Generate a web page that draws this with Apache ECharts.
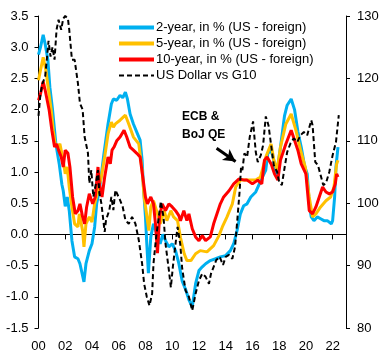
<!DOCTYPE html>
<html>
<head>
<meta charset="utf-8">
<script src="https://cdn.jsdelivr.net/npm/echarts@6/dist/echarts.min.js"></script>
<style>html,body{margin:0;padding:0;background:#fff}#c{width:384px;height:360px}</style>
</head>
<body>
<div id="c"></div>
<script>
// Series names
const seriesNames = ['2-year, in % (US - foreign)', '5-year, in % (US - foreign)', '10-year, in % (US - foreign)', 'US Dollar vs G10'];
const xTickYears = [2000, 2002, 2004, 2006, 2008, 2010, 2012, 2014, 2016, 2018, 2020, 2022];

// [year, value] readings
const twoYear = [
 [2000.0,2.88],[2000.15,3.0],[2000.35,3.2],[2000.5,3.05],[2000.7,2.8],[2000.85,2.36],[2001.05,2.0],[2001.3,1.45],
 [2001.55,1.13],[2001.75,0.8],[2001.85,0.7],[2002.0,0.45],[2002.15,0.6],[2002.3,0.38],[2002.5,-0.1],[2002.7,-0.36],
 [2002.95,-0.39],[2003.1,-0.47],[2003.4,-0.76],[2003.55,-0.47],[2003.8,-0.26],[2004.0,-0.15],[2004.2,0.12],[2004.35,0.49],
 [2004.55,0.7],[2004.9,1.3],[2005.2,1.77],[2005.45,2.09],[2005.6,2.17],[2005.85,2.15],[2006.1,2.23],[2006.3,2.19],
 [2006.5,2.28],[2006.65,2.17],[2006.85,1.93],[2007.1,1.77],[2007.35,1.64],[2007.6,1.51],[2007.75,1.19],[2007.85,0.76],
 [2008.0,0.28],[2008.1,-0.15],[2008.22,-0.62],[2008.4,-0.04],[2008.6,0.17],[2008.85,0.01],[2009.1,-0.15],[2009.3,0.0],
 [2009.5,-0.1],[2009.75,-0.2],[2010.0,-0.15],[2010.25,-0.26],[2010.5,-0.47],[2010.75,-0.75],[2011.0,-0.88],[2011.25,-1.05],
 [2011.5,-1.16],[2011.75,-0.79],[2012.0,-0.58],[2012.25,-0.52],[2012.5,-0.47],[2012.85,-0.42],[2013.25,-0.39],[2013.6,-0.36],
 [2014.0,-0.34],[2014.35,-0.26],[2014.6,-0.15],[2014.85,0.06],[2015.1,0.33],[2015.35,0.46],[2015.6,0.49],[2015.88,0.6],
 [2016.25,0.68],[2016.5,0.8],[2016.75,0.92],[2017.0,1.03],[2017.15,1.3],[2017.4,1.35],[2017.6,1.19],[2017.8,0.95],
 [2018.1,1.4],[2018.4,1.9],[2018.6,2.07],[2018.9,2.17],[2019.15,2.0],[2019.4,1.65],[2019.65,1.4],[2019.9,1.1],
 [2020.1,0.97],[2020.25,0.49],[2020.4,0.28],[2020.6,0.22],[2020.85,0.28],[2021.1,0.25],[2021.35,0.22],[2021.6,0.22],
 [2021.9,0.17],[2022.0,0.22],[2022.15,0.6],[2022.25,1.08],[2022.4,1.4]
];
const fiveYear = [
 [2000.0,2.47],[2000.15,2.63],[2000.35,2.84],[2000.55,2.63],[2000.75,2.31],[2000.95,1.99],[2001.1,1.67],[2001.25,1.45],
 [2001.4,1.4],[2001.6,1.45],[2001.8,1.24],[2002.0,0.97],[2002.15,1.08],[2002.3,0.76],[2002.5,0.44],[2002.7,0.17],
 [2002.95,0.12],[2003.05,0.33],[2003.3,0.06],[2003.4,-0.2],[2003.55,0.17],[2003.8,0.28],[2004.0,0.2],[2004.2,0.49],
 [2004.45,0.7],[2004.7,0.92],[2004.95,1.24],[2005.2,1.61],[2005.45,1.8],[2005.6,1.72],[2005.75,1.77],[2006.1,1.83],
 [2006.5,1.91],[2006.75,1.77],[2007.1,1.56],[2007.5,1.45],[2007.75,1.03],[2007.9,0.6],[2008.05,0.38],[2008.25,0.06],
 [2008.4,0.44],[2008.6,0.54],[2008.9,0.33],[2009.1,0.17],[2009.4,0.38],[2009.6,0.22],[2009.9,0.38],[2010.1,0.28],
 [2010.4,0.22],[2010.62,-0.05],[2010.9,-0.31],[2011.1,-0.42],[2011.4,-0.42],[2011.75,-0.31],[2012.1,-0.26],[2012.6,-0.28],
 [2013.1,-0.18],[2013.5,-0.02],[2013.75,0.12],[2014.1,0.28],[2014.5,0.49],[2014.75,0.76],[2015.1,0.87],[2015.6,0.87],
 [2015.9,0.87],[2016.25,0.87],[2016.6,0.92],[2017.0,1.24],[2017.15,1.32],[2017.4,1.45],[2017.6,1.19],[2017.85,1.03],
 [2018.1,1.4],[2018.5,1.77],[2018.9,1.93],[2019.25,1.67],[2019.6,1.35],[2019.95,1.08],[2020.25,0.6],[2020.5,0.28],
 [2020.75,0.33],[2021.1,0.44],[2021.5,0.54],[2021.85,0.6],[2022.1,0.76],[2022.3,1.13],[2022.4,1.19]
];
const tenYear = [
 [2000.0,2.15],[2000.15,2.25],[2000.35,2.45],[2000.5,2.31],[2000.8,1.99],[2001.0,1.67],[2001.2,1.4],[2001.35,1.45],
 [2001.5,1.35],[2001.7,1.24],[2001.85,1.08],[2002.0,1.35],[2002.2,1.3],[2002.35,1.08],[2002.55,0.6],[2002.75,0.33],
 [2002.95,0.38],[2003.1,0.49],[2003.3,0.28],[2003.45,0.17],[2003.6,0.44],[2003.8,0.65],[2004.05,0.49],[2004.25,0.6],
 [2004.45,1.08],[2004.55,0.81],[2004.75,0.6],[2004.95,0.92],[2005.2,1.24],[2005.37,1.13],[2005.5,1.35],[2005.65,1.4],
 [2005.85,1.5],[2006.1,1.56],[2006.4,1.67],[2006.6,1.56],[2006.85,1.4],[2007.1,1.35],[2007.35,1.3],[2007.6,1.24],
 [2007.8,0.92],[2008.0,0.6],[2008.15,0.49],[2008.4,0.6],[2008.6,0.49],[2008.75,0.17],[2008.9,-0.3],[2009.05,0.28],
 [2009.25,0.49],[2009.5,0.38],[2009.75,0.49],[2010.0,0.44],[2010.25,0.38],[2010.5,0.3],[2010.62,0.22],[2010.87,0.38],
 [2011.1,0.22],[2011.25,0.33],[2011.5,0.09],[2011.75,-0.04],[2012.0,-0.1],[2012.25,-0.02],[2012.5,-0.1],[2012.85,-0.04],
 [2013.1,0.17],[2013.35,0.33],[2013.6,0.49],[2013.85,0.6],[2014.25,0.7],[2014.6,0.81],[2015.0,0.89],[2015.4,0.87],
 [2015.6,0.87],[2016.0,0.81],[2016.4,0.87],[2016.7,0.81],[2016.9,1.19],[2017.1,1.24],[2017.4,1.13],[2017.65,0.97],
 [2017.9,0.87],[2018.1,1.19],[2018.5,1.45],[2018.9,1.67],[2019.15,1.51],[2019.4,1.35],[2019.65,1.13],[2020.0,0.97],
 [2020.25,0.38],[2020.5,0.33],[2020.75,0.44],[2021.0,0.6],[2021.25,0.76],[2021.5,0.68],[2021.75,0.65],[2022.0,0.68],
 [2022.2,0.81],[2022.3,0.97],[2022.4,0.92]
];
const usdVsG10 = [
 [2000.0,114],[2000.15,117.6],[2000.3,119.2],[2000.5,120.3],[2000.75,126],[2000.9,123.5],[2001.05,125],[2001.2,123],
 [2001.35,127.8],[2001.5,129.4],[2001.7,127.8],[2001.85,129.6],[2002.0,130],[2002.2,129.6],[2002.3,127.8],[2002.5,123],
 [2002.7,123],[2002.95,119.2],[2003.1,116],[2003.3,115],[2003.45,110.6],[2003.55,109.6],[2003.7,108],[2003.8,103.2],
 [2003.95,105.3],[2004.1,101],[2004.3,103.2],[2004.45,105.3],[2004.55,101.6],[2004.7,100],[2004.95,95.4],[2005.05,97.3],
 [2005.3,98.9],[2005.45,101],[2005.6,98.9],[2005.75,102.1],[2005.87,101.8],[2006.1,100.5],[2006.3,99.4],[2006.5,97.3],
 [2006.75,96.7],[2007.0,97.8],[2007.25,96.7],[2007.5,94.1],[2007.75,90.3],[2007.9,87.1],[2008.1,85],[2008.3,83.6],
 [2008.5,85.5],[2008.6,90.3],[2008.8,94.6],[2009.0,97.8],[2009.15,100.3],[2009.35,97.8],[2009.5,93.5],[2009.75,89.3],
 [2009.9,86.5],[2010.05,89.8],[2010.25,93.5],[2010.4,96.2],[2010.6,93.5],[2010.75,89.5],[2011.0,86.0],[2011.25,85.0],
 [2011.5,82.8],[2011.75,85.5],[2012.0,87.6],[2012.25,88.7],[2012.5,88.2],[2012.75,87.1],[2012.9,88.7],[2013.1,89.8],
 [2013.3,90.9],[2013.55,91.4],[2013.8,90.1],[2014.0,91.4],[2014.25,91.7],[2014.5,91.1],[2014.7,93.0],[2014.87,97.3],
 [2015.05,102.1],[2015.15,105.8],[2015.25,105.3],[2015.4,108],[2015.6,107.4],[2015.8,110.6],[2016.05,113.1],[2016.25,108.2],
 [2016.4,106.6],[2016.63,107.7],[2016.8,109.3],[2017.0,113.9],[2017.2,112.5],[2017.4,109.3],[2017.6,106.1],[2017.85,105.0],
 [2018.0,103.4],[2018.2,102.9],[2018.4,105.6],[2018.6,108.2],[2018.85,109.6],[2019.1,110.4],[2019.35,109.8],[2019.6,110.9],
 [2019.85,111.4],[2020.1,110.9],[2020.4,113.3],[2020.5,112.5],[2020.7,106.6],[2020.9,106.1],[2021.1,104.5],[2021.3,102.9],
 [2021.5,103.2],[2021.75,105.0],[2022.0,107.7],[2022.25,109.8],[2022.46,114.1]
];
const colors = ['#00B0F0', '#FFC000', '#FF0000', '#000000'];
const annotationText = 'ECB &\nBoJ QE';
const arrowFrom = [2013.32, 1.38];
const arrowTo = [2014.74, 1.17];

const FONT = 'Liberation Sans, Arial, sans-serif';
const chart = echarts.init(document.getElementById('c'), null, {renderer: 'canvas'});
const axisTxt = {color: '#000', fontSize: 13, fontFamily: FONT};
const fmtYear = v => String(Math.round(v) % 100).padStart(2, '0');

chart.setOption({
  animation: false,
  backgroundColor: '#fff',
  grid: {left: 38.5, right: 38, top: 16, bottom: 32, containLabel: false},
  legend: {
    orient: 'vertical', left: 112, top: 16,
    itemWidth: 35, itemHeight: 12, itemGap: 3,
    itemStyle: {opacity: 0, borderWidth: 0},
    textStyle: {color: '#000', fontSize: 13, fontFamily: FONT, padding: [0, 0, 0, -3]},
    data: seriesNames.map((n, i) => ({name: n, lineStyle: {width: i < 3 ? 4 : 2}}))
  },
  xAxis: [
    {type: 'value', min: 2000, max: 2023, interval: 2, position: 'bottom',
     axisLine: {show: false, onZero: false}, axisTick: {show: false}, splitLine: {show: false},
     axisLabel: Object.assign({margin: 12, showMaxLabel: false, formatter: v => xTickYears.includes(v) ? fmtYear(v) : ''}, axisTxt)},
    {type: 'value', min: 2000, max: 2023, interval: 2, position: 'bottom',
     axisLine: {show: true, onZero: true, onZeroAxisIndex: 0, lineStyle: {color: '#000', width: 1}},
     axisTick: {show: true, length: 5, lineStyle: {color: '#000'}}, splitLine: {show: false},
     axisLabel: {show: false}}
  ],
  yAxis: [
    {type: 'value', min: -1.5, max: 3.5, interval: 0.5, position: 'left',
     axisLine: {show: true, lineStyle: {color: '#000', width: 1}},
     axisTick: {show: true, length: 4, lineStyle: {color: '#000'}}, splitLine: {show: false},
     axisLabel: Object.assign({margin: 10, formatter: v => v.toFixed(1)}, axisTxt)},
    {type: 'value', min: 80, max: 130, interval: 10, position: 'right',
     axisLine: {show: true, lineStyle: {color: '#000', width: 1}},
     axisTick: {show: true, length: 4, lineStyle: {color: '#000'}}, splitLine: {show: false},
     axisLabel: Object.assign({margin: 11}, axisTxt)}
  ],
  series: [
    {name: seriesNames[0], type: 'line', data: twoYear, xAxisIndex: 0, yAxisIndex: 0, symbol: 'none',
     color: colors[0], lineStyle: {width: 3, color: colors[0]}},
    {name: seriesNames[1], type: 'line', data: fiveYear, xAxisIndex: 0, yAxisIndex: 0, symbol: 'none',
     color: colors[1], lineStyle: {width: 3, color: colors[1]}},
    {name: seriesNames[2], type: 'line', data: tenYear, xAxisIndex: 0, yAxisIndex: 0, symbol: 'none',
     color: colors[2], lineStyle: {width: 3, color: colors[2]},
     markLine: {silent: true, symbol: ['none', 'arrow'], symbolSize: [10, 12], label: {show: false},
       lineStyle: {color: '#000', width: 3, type: 'solid'},
       data: [[{coord: arrowFrom}, {coord: arrowTo}]]}},
    {name: seriesNames[3], type: 'line', data: usdVsG10, xAxisIndex: 0, yAxisIndex: 1, symbol: 'none',
     color: colors[3], lineStyle: {width: 2, color: colors[3], type: [5, 3]}}
  ],
  graphic: [{
    type: 'text', left: 182, top: 108, z: 100,
    style: {text: annotationText, fill: '#000', font: 'bold 12px ' + FONT, lineHeight: 18}
  }]
});
</script>
</body>
</html>
